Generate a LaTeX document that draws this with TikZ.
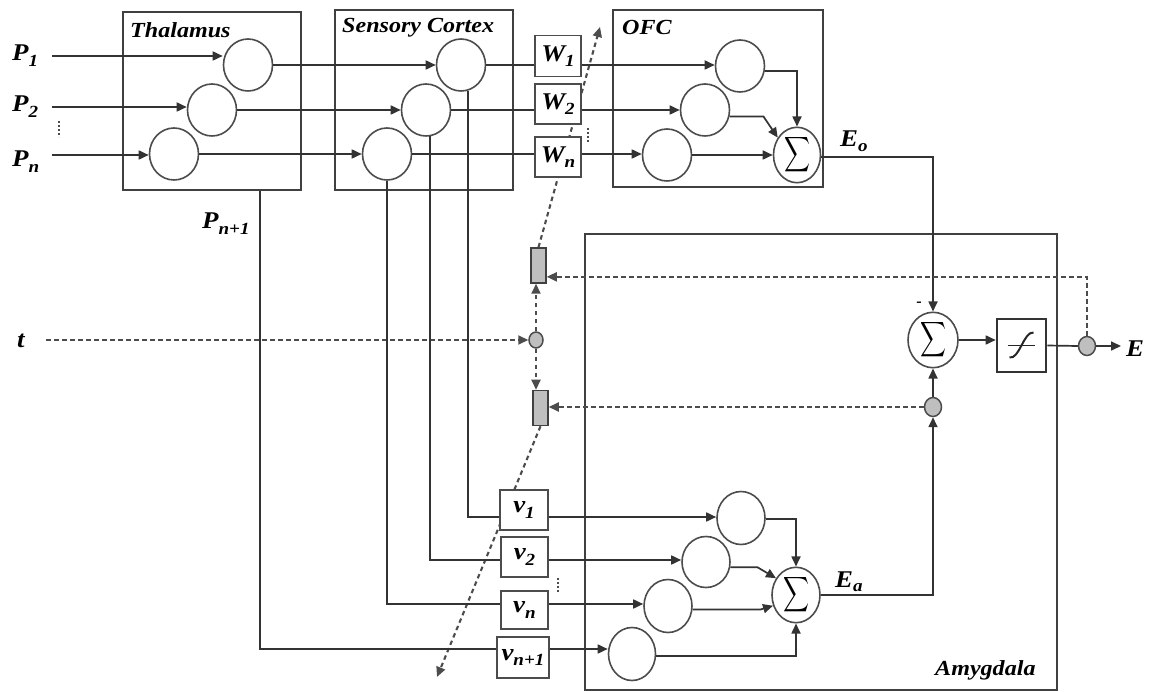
\documentclass[tikz,border=0pt]{standalone}
\usepackage{fontspec}
\usepackage{graphicx}
\setmainfont{Liberation Serif}
\newfontfamily\labfont{Liberation Serif}[FakeStretch=1.12]
\usetikzlibrary{arrows.meta,shapes.geometric}
\newcommand\sbs[2][-0.22em]{\raisebox{#1}{\fontsize{17}{17}\selectfont #2}}
\newcommand\bigsig{\scalebox{1.8}[2.45]{$\displaystyle\sum$}}
\tikzset{
  ln/.style={draw=black!80, line width=1.7pt},
  arr/.style={ln, -{Triangle[length=10pt,width=9pt]}},
  dsh/.style={draw=black!70, line width=2.1pt, dash pattern=on 4.5pt off 3.5pt},
  darr/.style={dsh, -{Triangle[length=10pt,width=9pt]}},
  dotsty/.style={draw=black!70, line width=2.2pt, dash pattern=on 2pt off 2pt},
  region/.style={rectangle, draw=black!75, line width=2pt, inner sep=0pt},
  neuron/.style={ellipse, draw=black!70, line width=1.6pt, fill=white, inner sep=0pt, minimum width=49pt, minimum height=52pt},
  sumnode/.style={neuron, font=\bigsig},
  wbox/.style={rectangle, draw=black!70, line width=1.7pt, fill=white, inner sep=0pt, font=\labfont\bfseries\itshape\fontsize{24}{24}\selectfont},
  gbox/.style={rectangle, draw=black!75, fill=gray!50, line width=1.5pt, minimum width=15pt, minimum height=35pt, inner sep=0pt},
  gdot/.style={ellipse, draw=black!70, fill=gray!50, line width=1.5pt, inner sep=0pt, minimum width=17pt, minimum height=19pt},
  lab/.style={font=\labfont\bfseries\itshape\fontsize{24}{24}\selectfont, inner sep=0pt, anchor=base west},
  rlab/.style={lab, font=\labfont\bfseries\itshape\fontsize{21.5}{21.5}\selectfont},
}
\begin{document}
\begin{tikzpicture}[x=1pt,y=-1pt]
\useasboundingbox (0,0) rectangle (1149,692);
% regions
\node[region, minimum width=178pt, minimum height=178pt] (thal) at (212,101) {};
\node[region, minimum width=178pt, minimum height=180pt] (sens) at (424,100) {};
\node[region, minimum width=210pt, minimum height=177pt] (ofc) at (718,98.5) {};
\node[region, minimum width=472pt, minimum height=456pt] (amyg) at (821,462) {};
\node[rlab] (thallab) at (130,38) {Thalamus};
\node[rlab] (senslab) at (342,33) {Sensory Cortex};
\node[rlab] (ofclab) at (622,35) {OFC};
\node[rlab] (amyglab) at (935,675) {Amygdala};
% input labels
\node[lab] (P1) at (12,61) {P\sbs{1}};
\node[lab] (P2) at (12,112) {P\sbs{2}};
\node[lab] (Pn) at (12,167) {P\sbs{n}};
\node[lab] (Pn1) at (202,229) {P\sbs{n+1}};
\node[lab] (tl) at (17,348) {t};
\coordinate (p1s) at (52,56);
\coordinate (p2s) at (52,107);
\coordinate (pns) at (52,155);
\coordinate (ts) at (46,340);
\draw[dotsty] (59,121) -- (59,137);
% thalamus and sensory cortex neurons
\node[neuron] (T1) at (248,65) {};
\node[neuron] (T2) at (212,110) {};
\node[neuron] (T3) at (174,154) {};
\node[neuron] (S1) at (461,65) {};
\node[neuron] (S2) at (426,110) {};
\node[neuron] (S3) at (387,154) {};
\draw[arr] (p1s) -- (p1s -| T1.west);
\draw[arr] (p2s) -- (p2s -| T2.west);
\draw[arr] (pns) -- (pns -| T3.west);
\draw[arr] (T1.east) -- (T1.east -| S1.west);
\draw[arr] (T2.east) -- (T2.east -| S2.west);
\draw[arr] (T3.east) -- (T3.east -| S3.west);
% gray modulators and t
\node[gbox] (G1) at (538.5,265.5) {};
\node[gbox] (G2) at (540.5,408) {};
\node[gdot, minimum width=14pt, minimum height=16pt] (TC) at (536,340) {};
\coordinate (dtop) at (600,27);
\coordinate (dbot) at (437,677);
\draw[darr] (G1.north) -- (dtop);
\draw[darr] (G2.south) -- (dbot);
\draw[darr] (ts) -- (TC.west);
\draw[darr] (TC.north) -- (TC.north |- G1.south);
\draw[darr] (TC.south) -- (TC.south |- G2.north);
% OFC
\node[wbox, minimum width=46pt, minimum height=41pt] (W1) at (558,56) {W\sbs{1}};
\node[wbox, minimum width=46pt, minimum height=40pt] (W2) at (558,104) {W\sbs{2}};
\node[wbox, minimum width=46pt, minimum height=40pt] (Wn) at (558,157) {W\sbs{n}};
\draw[dotsty] (588,128) -- (588,143);
\node[neuron] (O1) at (740,66) {};
\node[neuron] (O2) at (705,110) {};
\node[neuron] (O3) at (667,155) {};
\node[sumnode, minimum width=47pt, minimum height=54pt] (OS) at (797,155) {};
\draw[ln] (S1.east) -- (S1.east -| W1.west);
\draw[ln] (S2.east) -- (S2.east -| W2.west);
\draw[ln] (S3.east) -- (S3.east -| Wn.west);
\draw[arr] (S1.east -| W1.east) -- (S1.east -| O1.west);
\draw[arr] (S2.east -| W2.east) -- (S2.east -| O2.west);
\draw[arr] (S3.east -| Wn.east) -- (S3.east -| O3.west);
\draw[arr] (O1.-12) -| (OS.north);
\draw[arr] (O2.-15) -- ++(34,0) -- (OS.138);
\draw[arr] (O3.east) -- (OS.west);
\node[lab] (Eo) at (840,147) {E\sbs[-0.18em]{o}};
% amygdala output part
\node[sumnode, minimum width=50pt, minimum height=52pt] (AS) at (933,340) {};
\node[rectangle, draw=black!80, line width=2.6pt, minimum width=49pt, minimum height=53pt, inner sep=0pt] (F) at (1021.5,345.5) {};
\draw[line width=1.6pt, black!85] ([xshift=-14pt]F.center) -- ([xshift=13pt]F.center);
\draw[line width=2pt, black!85] ([shift={(-12pt,-12pt)}]F.center) .. controls ([shift={(-2pt,-14pt)}]F.center) and ([shift={(2pt,14pt)}]F.center) .. ([shift={(12pt,13pt)}]F.center);
\node[gdot] (EC) at (1087,346) {};
\node[gdot] (GA) at (933,407) {};
\coordinate (Eend) at (1121,346);
\node[lab] (El) at (1126,357) {E};
\node[font=\bfseries\fontsize{16}{16}\selectfont, inner sep=0pt] (minus) at (919,304) {-};
\draw[arr] (OS.-5) -| (AS.north);
\draw[arr] (AS.east) -- (AS.east -| F.west);
\draw[ln] (F.east) -- (EC.west);
\draw[arr] (EC.east) -- (Eend);
\draw[darr] (EC.north) |- (G1.-54);
\draw[darr] (GA.west) -- (GA.west -| G2.east);
\draw[arr] (GA.north) -- (AS.south);
% amygdala inputs
\node[wbox, minimum width=48pt, minimum height=40pt] (V1) at (524,510) {v\sbs{1}};
\node[wbox, minimum width=47pt, minimum height=40pt] (V2) at (524.5,557) {v\sbs{2}};
\node[wbox, minimum width=47pt, minimum height=38pt] (Vn) at (524.5,610) {v\sbs{n}};
\node[wbox, minimum width=52pt, minimum height=41pt] (Vn1) at (523,657.5) {v\sbs{n+1}};
\draw[dotsty] (558,578) -- (558,593);
\draw[ln] (S1.-75) |- ([yshift=-7pt]V1.west);
\draw[ln] (S2.-81) |- ([yshift=-3pt]V2.west);
\draw[ln] (S3.south) |- ([yshift=6pt]Vn.west);
\draw[ln] ([xshift=48pt]thal.south) |- ([yshift=8.5pt]Vn1.west);
\node[neuron, minimum width=48pt, minimum height=53pt] (A1) at (741,518) {};
\node[neuron, minimum width=48pt, minimum height=51pt] (A2) at (706,562) {};
\node[neuron, minimum width=48pt, minimum height=53pt] (A3) at (668,606) {};
\node[neuron, minimum width=47pt, minimum height=53pt] (A4) at (632,654) {};
\node[sumnode, minimum width=48pt, minimum height=55pt] (SA) at (796,595) {};
\draw[arr] ([yshift=-7pt]V1.east) -- ([yshift=-7pt]V1.east -| A1.west);
\draw[arr] ([yshift=-3pt]V2.east) -- ([yshift=-3pt]V2.east -| A2.west);
\draw[arr] ([yshift=6pt]Vn.east) -- ([yshift=6pt]Vn.east -| A3.west);
\draw[arr] ([yshift=8.5pt]Vn1.east) -- ([yshift=8.5pt]Vn1.east -| A4.west);
\draw[arr] (A1.-3) -| (SA.north);
\draw[arr] (A2.-12) -- ++(27,0) -- (SA.140);
\draw[arr] (A3.-8) -- ++(68,0) -- (SA.205);
\draw[arr] (A4.-5) -| (SA.south);
\draw[arr] (SA.east) -| (GA.south);
\node[lab] (Ea) at (835,587) {E\sbs[-0.18em]{a}};
\end{tikzpicture}
\end{document}
